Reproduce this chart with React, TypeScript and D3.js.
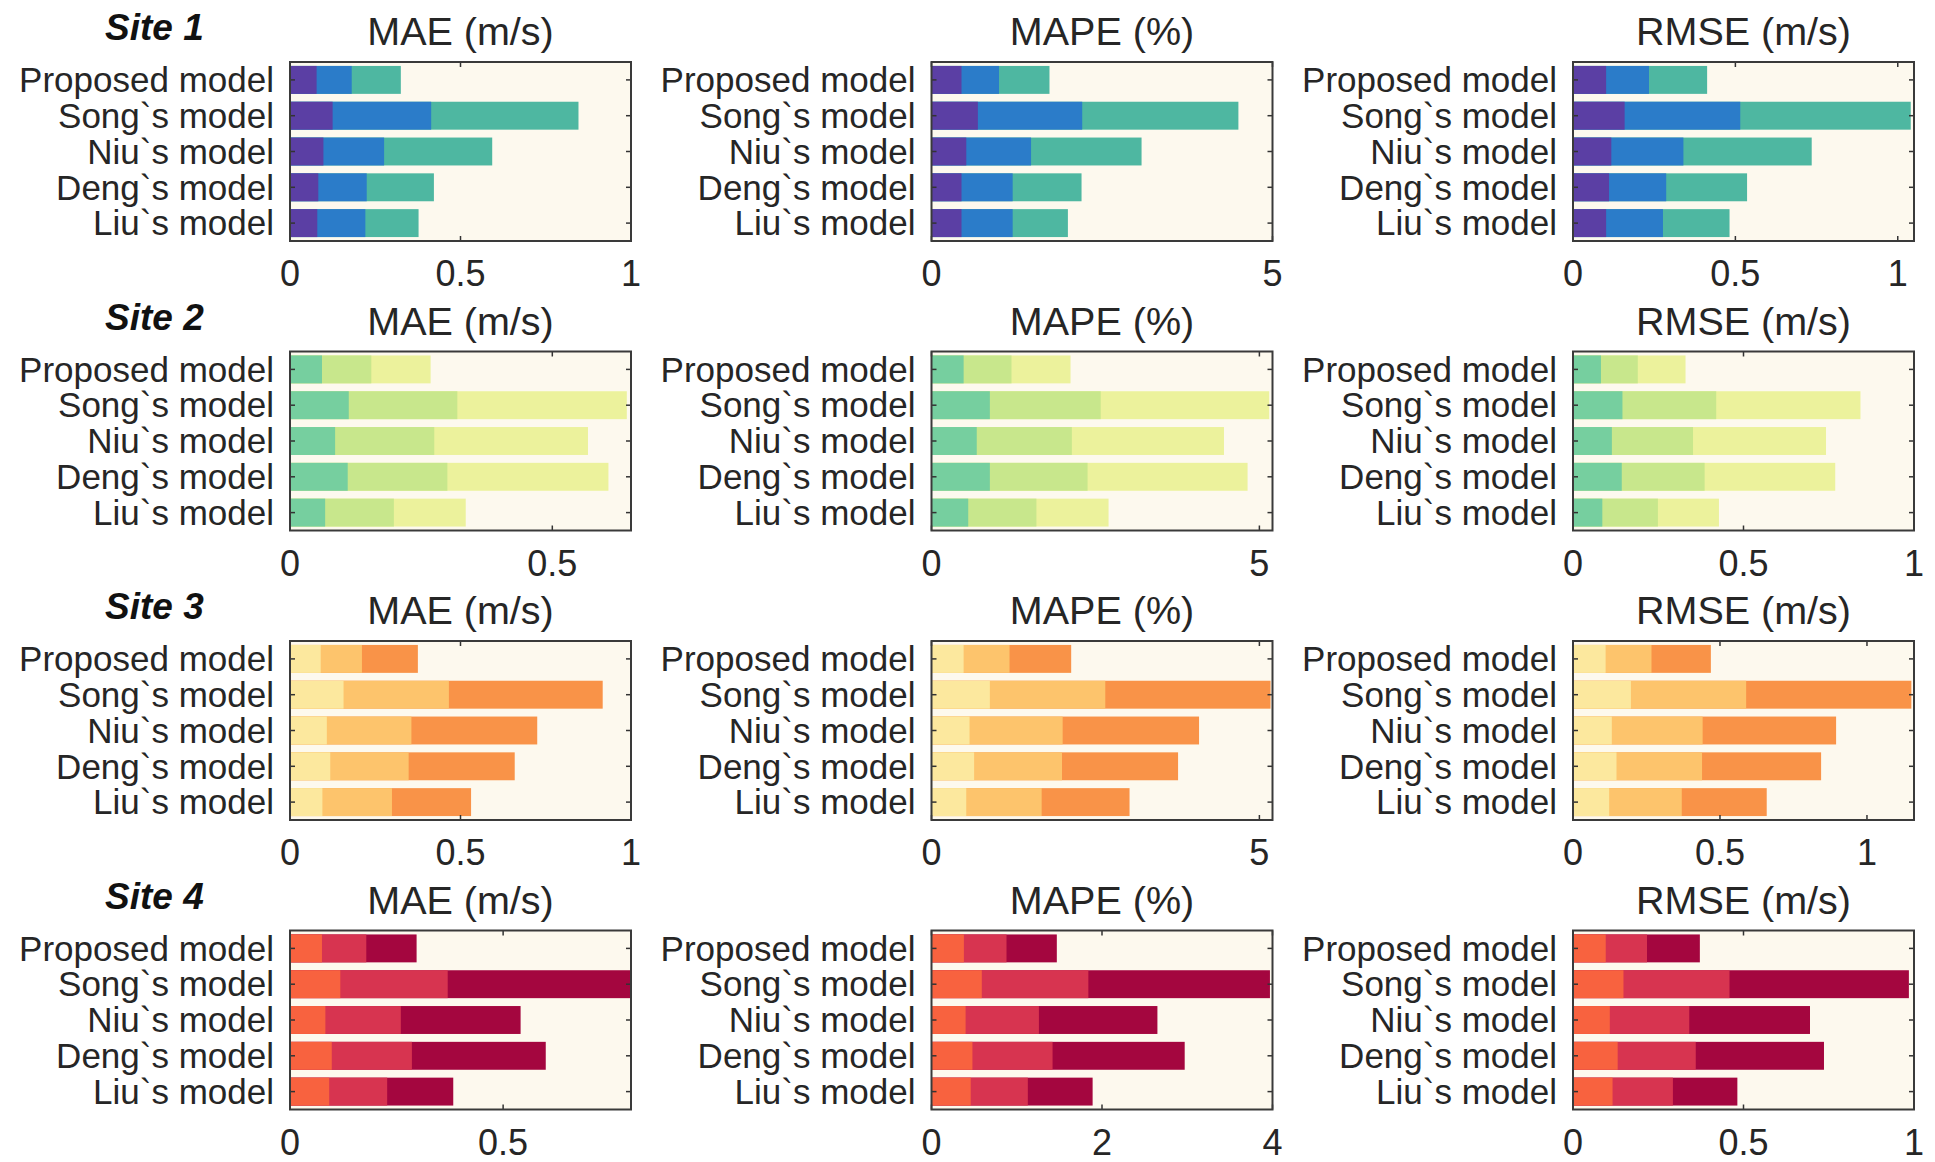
import { useEffect } from "react";
import * as d3 from "d3";

const models = ["Proposed model", "Song`s model", "Niu`s model", "Deng`s model", "Liu`s model"];
const metricTitles = ["MAE (m/s)", "MAPE (%)", "RMSE (m/s)"];
const siteNames = ["Site 1", "Site 2", "Site 3", "Site 4"];

// per model: [1-step, 2-step, 3-step] errors (bars overlap, longest drawn first)
const site1MAE = [[0.078, 0.181, 0.325], [0.125, 0.414, 0.846], [0.098, 0.276, 0.593], [0.083, 0.225, 0.422], [0.08, 0.221, 0.377]];
const site1MAPE = [[0.44, 0.99, 1.73], [0.68, 2.21, 4.5], [0.51, 1.46, 3.08], [0.44, 1.19, 2.2], [0.44, 1.19, 2.0]];
const site1RMSE = [[0.102, 0.234, 0.413], [0.159, 0.515, 1.04], [0.118, 0.34, 0.735], [0.111, 0.287, 0.536], [0.102, 0.277, 0.482]];

const site2MAE = [[0.061, 0.155, 0.268], [0.112, 0.319, 0.642], [0.086, 0.275, 0.568], [0.11, 0.3, 0.607], [0.067, 0.198, 0.335]];
const site2MAPE = [[0.49, 1.22, 2.12], [0.89, 2.58, 5.15], [0.69, 2.14, 4.46], [0.89, 2.38, 4.82], [0.56, 1.6, 2.7]];
const site2RMSE = [[0.082, 0.19, 0.33], [0.145, 0.42, 0.843], [0.114, 0.352, 0.742], [0.143, 0.386, 0.769], [0.086, 0.249, 0.428]];

const site3MAE = [[0.09, 0.211, 0.375], [0.157, 0.466, 0.917], [0.108, 0.356, 0.725], [0.118, 0.348, 0.659], [0.095, 0.299, 0.531]];
const site3MAPE = [[0.49, 1.19, 2.13], [0.89, 2.65, 5.17], [0.58, 2.0, 4.08], [0.65, 1.99, 3.76], [0.53, 1.68, 3.02]];
const site3RMSE = [[0.111, 0.267, 0.469], [0.197, 0.589, 1.151], [0.132, 0.441, 0.895], [0.148, 0.439, 0.844], [0.123, 0.37, 0.659]];

const site4MAE = [[0.075, 0.179, 0.297], [0.118, 0.37, 0.8], [0.083, 0.26, 0.541], [0.098, 0.286, 0.6], [0.092, 0.228, 0.383]];
const site4MAPE = [[0.38, 0.88, 1.47], [0.59, 1.84, 3.97], [0.4, 1.26, 2.65], [0.48, 1.42, 2.97], [0.46, 1.13, 1.89]];
const site4RMSE = [[0.096, 0.217, 0.372], [0.148, 0.459, 0.985], [0.108, 0.341, 0.695], [0.131, 0.36, 0.736], [0.116, 0.293, 0.482]];

const panelData = [
  [site1MAE, site1MAPE, site1RMSE],
  [site2MAE, site2MAPE, site2RMSE],
  [site3MAE, site3MAPE, site3RMSE],
  [site4MAE, site4MAPE, site4RMSE],
];

const axisMax = [[1, 5, 1.05], [0.65, 5.2, 1], [1, 5.2, 1.16], [0.8, 4, 1]];
const axisTicks = [
  [[0, 0.5, 1], [0, 5], [0, 0.5, 1]],
  [[0, 0.5], [0, 5], [0, 0.5, 1]],
  [[0, 0.5, 1], [0, 5], [0, 0.5, 1]],
  [[0, 0.5], [0, 2, 4], [0, 0.5, 1]],
];

// colors per site: [1-step, 2-step, 3-step]
const siteColors = [
  ["#5b3fa4", "#2b7cc9", "#4eb7a1"],
  ["#76cf9f", "#c8e78c", "#ecf29c"],
  ["#fce89e", "#fdc46c", "#f99348"],
  ["#f8623f", "#d73450", "#a4063f"],
];

const W = 1935;
const H = 1162;
const PW = 341;
const PH = 179;
const LEFT0 = 290;
const COL_STEP = 641.5;
const TOP0 = 62;
const ROW_STEP = 289.5;
const FONT = "'Liberation Sans', Arial, Helvetica, sans-serif";
const TEXT = "#262626";

interface PanelProps {
  left: number;
  top: number;
  data: number[][];
  max: number;
  ticks: number[];
  colors: string[];
  title: string;
  clipId: string;
}

const Panel = ({ left, top, data, max, ticks, colors, title, clipId }: PanelProps) => {
  const x = d3.scaleLinear().domain([0, max]).range([0, PW]);
  const y = d3.scaleBand<string>().domain(models).range([0, PH]).paddingInner(0.22).paddingOuter(0.11);
  const tickLen = 5;

  return (
    <g transform={`translate(${left},${top})`}>
      <defs>
        <clipPath id={clipId}>
          <rect x={0} y={0} width={PW} height={PH} />
        </clipPath>
      </defs>
      <rect x={0} y={0} width={PW} height={PH} fill="#fdf9ee" />
      <g clipPath={`url(#${clipId})`}>
        {data.map((vals, i) =>
          [2, 1, 0].map((k) => (
            <rect
              key={`${i}-${k}`}
              x={x(0)}
              y={y(models[i])}
              width={x(vals[k]) - x(0)}
              height={y.bandwidth()}
              fill={colors[k]}
            />
          ))
        )}
      </g>
      {/* ticks */}
      {ticks.map((t) => (
        <g key={`xt-${t}`}>
          <line x1={x(t)} x2={x(t)} y1={PH} y2={PH - tickLen} stroke="#333" strokeWidth={1.5} />
          <line x1={x(t)} x2={x(t)} y1={0} y2={tickLen} stroke="#333" strokeWidth={1.5} />
          <text
            x={x(t)}
            y={PH + 45}
            textAnchor="middle"
            fontSize={36}
            fontFamily={FONT}
            fill={TEXT}
          >
            {String(t)}
          </text>
        </g>
      ))}
      {models.map((m) => {
        const cy = (y(m) ?? 0) + y.bandwidth() / 2;
        return (
          <g key={`yt-${m}`}>
            <line x1={0} x2={tickLen} y1={cy} y2={cy} stroke="#333" strokeWidth={1.5} />
            <line x1={PW} x2={PW - tickLen} y1={cy} y2={cy} stroke="#333" strokeWidth={1.5} />
            <text
              x={-16}
              y={cy}
              dy="0.35em"
              textAnchor="end"
              fontSize={35}
              fontFamily={FONT}
              fill={TEXT}
            >
              {m}
            </text>
          </g>
        );
      })}
      <rect x={0} y={0} width={PW} height={PH} fill="none" stroke="#3a3a3a" strokeWidth={2} />
      <text
        x={PW / 2}
        y={-17}
        textAnchor="middle"
        fontSize={39.5}
        fontFamily={FONT}
        fill={TEXT}
      >
        {title}
      </text>
    </g>
  );
};

const App = () => {
  useEffect(() => {
    document.body.style.margin = "0";
    document.body.style.overflow = "hidden";
  }, []);

  return (
    <svg width={W} height={H} style={{ display: "block", background: "#fff" }}>
      {siteNames.map((site, r) => {
        const top = TOP0 + r * ROW_STEP;
        return (
          <g key={site}>
            <text
              x={105}
              y={top - 22}
              fontSize={37}
              fontWeight="bold"
              fontStyle="italic"
              fontFamily={FONT}
              fill="#111"
            >
              {site}
            </text>
            {metricTitles.map((title, c) => (
              <Panel
                key={title}
                left={LEFT0 + c * COL_STEP}
                top={top}
                data={panelData[r][c]}
                max={axisMax[r][c]}
                ticks={axisTicks[r][c]}
                colors={siteColors[r]}
                title={title}
                clipId={`clip-${r}-${c}`}
              />
            ))}
          </g>
        );
      })}
    </svg>
  );
};

export default App;
